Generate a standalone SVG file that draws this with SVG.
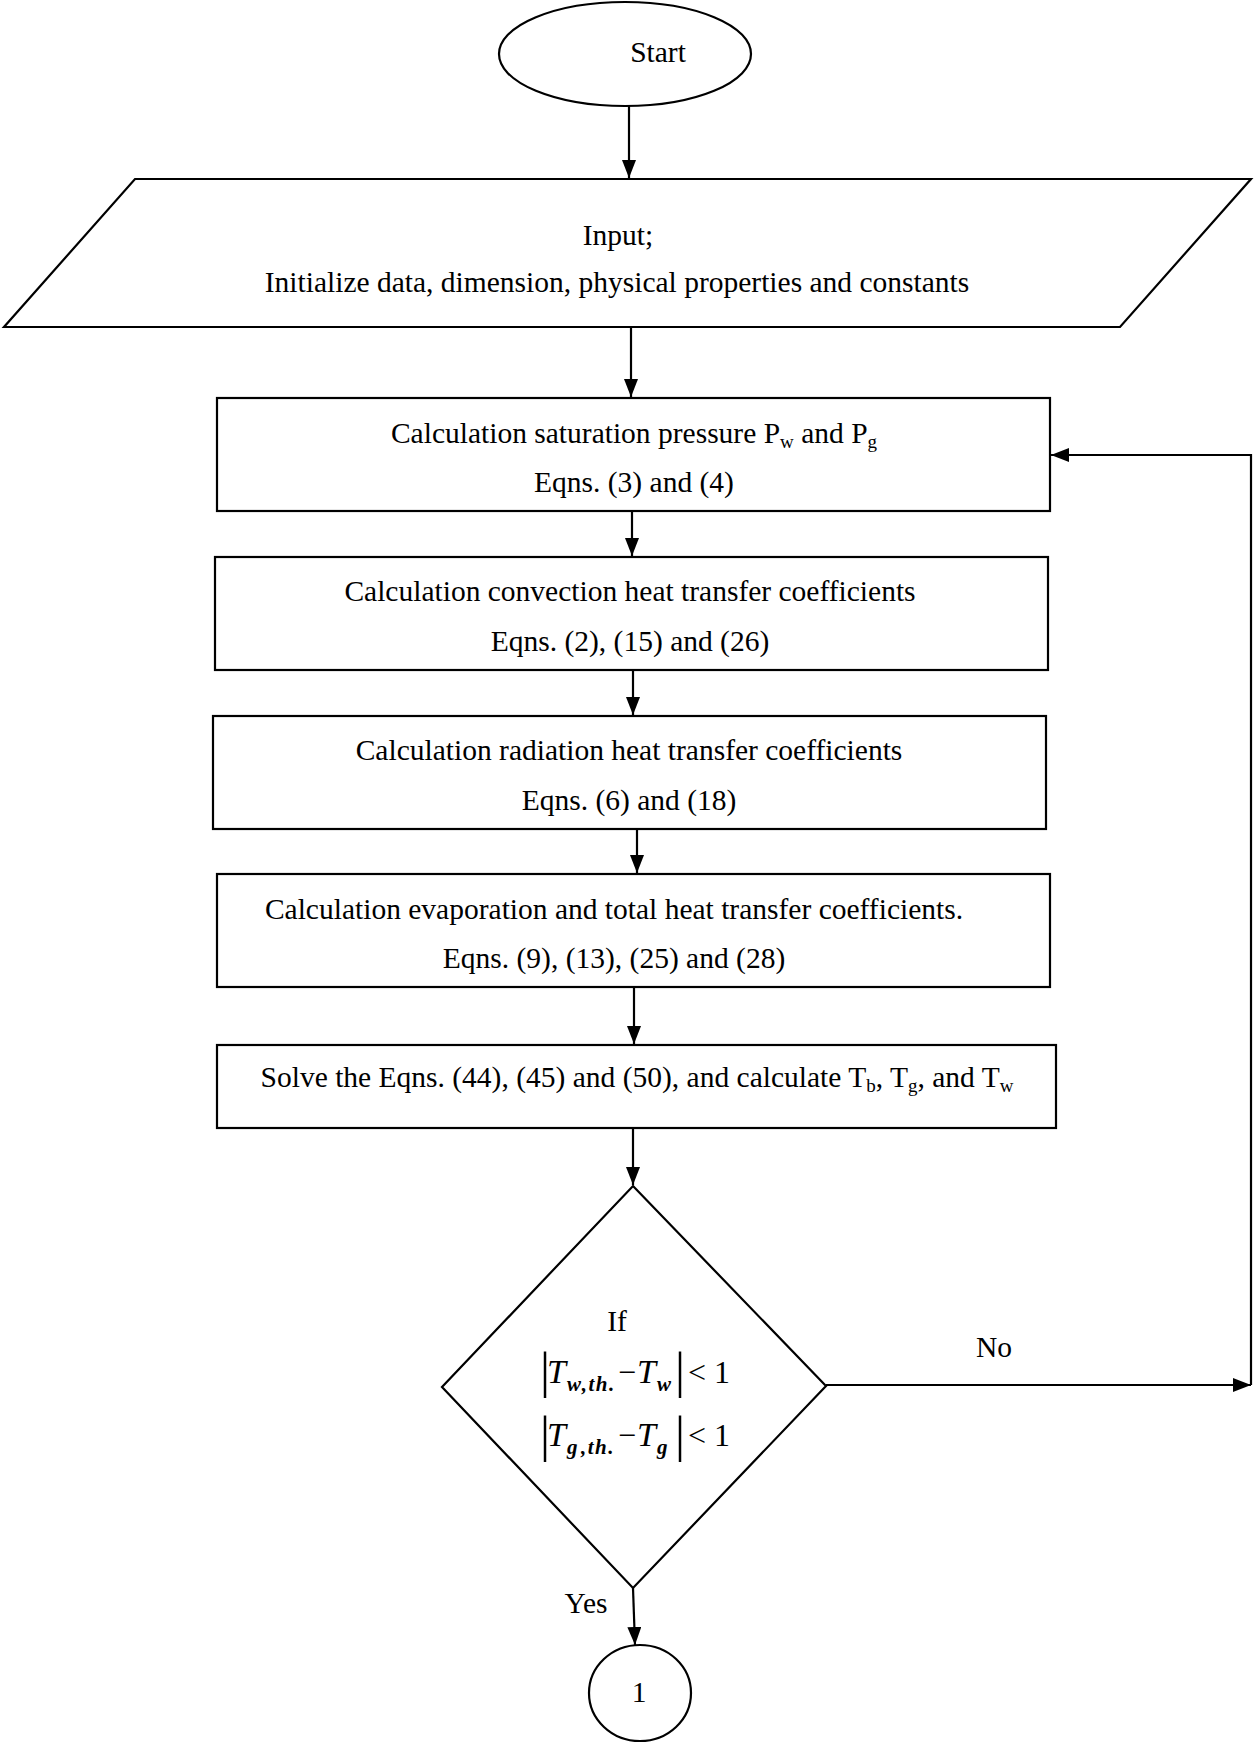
<svg xmlns="http://www.w3.org/2000/svg" width="1256" height="1744" viewBox="0 0 1256 1744">
<style>
.shape{fill:#fff;stroke:#000;stroke-width:2.2}
.line{fill:none;stroke:#000;stroke-width:2.2}
.t{font-family:"Liberation Serif","Times New Roman",serif;font-size:29.5px;fill:#000}
.c{text-anchor:middle}
.sub{font-size:19px}
.mi{font-family:"Liberation Serif","Times New Roman",serif;font-style:italic;font-size:34px;fill:#000}
.ms{font-family:"Liberation Serif","Times New Roman",serif;font-style:italic;font-weight:bold;font-size:21px;letter-spacing:1.5px;fill:#000}
.mr{font-family:"Liberation Serif","Times New Roman",serif;font-size:32px;fill:#000}
.bar{font-family:"Liberation Serif","Times New Roman",serif;font-size:50px;fill:#000}
</style>
<defs>
<marker id="ah" markerUnits="userSpaceOnUse" markerWidth="20" markerHeight="16" refX="18" refY="7" orient="auto">
<path d="M0,0 L18,7 L0,14 Z" fill="#000"/>
</marker>
</defs>
<rect width="1256" height="1744" fill="#fff"/>
<g id="connectors">
<line class="line" x1="629" y1="106" x2="629" y2="178" marker-end="url(#ah)"/>
<line class="line" x1="631" y1="327" x2="631" y2="397" marker-end="url(#ah)"/>
<line class="line" x1="632" y1="511" x2="632" y2="556" marker-end="url(#ah)"/>
<line class="line" x1="633" y1="670" x2="633" y2="715" marker-end="url(#ah)"/>
<line class="line" x1="637" y1="829" x2="637" y2="873" marker-end="url(#ah)"/>
<line class="line" x1="634" y1="987" x2="634" y2="1044" marker-end="url(#ah)"/>
<line class="line" x1="633" y1="1128" x2="633" y2="1185" marker-end="url(#ah)"/>
<line class="line" x1="633" y1="1588" x2="635" y2="1645" marker-end="url(#ah)"/>
<line class="line" x1="826" y1="1385" x2="1251" y2="1385" marker-end="url(#ah)"/>
<polyline class="line" points="1251,1385 1251,455 1051,455" marker-end="url(#ah)"/>
<text class="t c" x="994" y="1357">No</text>
<text class="t c" x="586" y="1613">Yes</text>
</g>
<g id="start">
<ellipse class="shape" cx="625" cy="54" rx="126" ry="52"/>
<text class="t c" x="658" y="62">Start</text>
</g>
<g id="input">
<polygon class="shape" points="135,179 1251,179 1120,327 4,327"/>
<text class="t c" x="618" y="245">Input;</text>
<text class="t c" x="617" y="292">Initialize data, dimension, physical properties and constants</text>
</g>
<g id="box1">
<rect class="shape" x="217" y="398" width="833" height="113"/>
<text class="t c" x="634" y="443">Calculation saturation pressure P<tspan class="sub" dy="5">w</tspan><tspan dy="-5"> and P</tspan><tspan class="sub" dy="5">g</tspan></text>
<text class="t c" x="634" y="492">Eqns. (3) and (4)</text>
</g>
<g id="box2">
<rect class="shape" x="215" y="557" width="833" height="113"/>
<text class="t c" x="630" y="601">Calculation convection heat transfer coefficients</text>
<text class="t c" x="630" y="651">Eqns. (2), (15) and (26)</text>
</g>
<g id="box3">
<rect class="shape" x="213" y="716" width="833" height="113"/>
<text class="t c" x="629" y="760">Calculation radiation heat transfer coefficients</text>
<text class="t c" x="629" y="810">Eqns. (6) and (18)</text>
</g>
<g id="box4">
<rect class="shape" x="217" y="874" width="833" height="113"/>
<text class="t c" x="614" y="919">Calculation evaporation and total heat transfer coefficients.</text>
<text class="t c" x="614" y="968">Eqns. (9), (13), (25) and (28)</text>
</g>
<g id="box5">
<rect class="shape" x="217" y="1045" width="839" height="83"/>
<text class="t c" x="637" y="1087">Solve the Eqns. (44), (45) and (50), and calculate T<tspan class="sub" dy="5">b</tspan><tspan dy="-5">, T</tspan><tspan class="sub" dy="5">g</tspan><tspan dy="-5">, and T</tspan><tspan class="sub" dy="5">w</tspan></text>
</g>
<g id="decision">
<polygon class="shape" points="633,1186 826,1386 633,1588 442,1387"/>
<text class="t c" x="617" y="1331">If</text>
<text class="bar" x="540" y="1387">|</text>
<text class="mi" x="547" y="1383">T</text>
<text class="ms" x="567" y="1391">w,th.</text>
<text class="mr" x="618" y="1383">−</text>
<text class="mi" x="637" y="1383">T</text>
<text class="ms" x="657" y="1391">w</text>
<text class="bar" x="675" y="1387">|</text>
<text class="mr" x="688" y="1383">&lt; 1</text>
<text class="bar" x="540" y="1451">|</text>
<text class="mi" x="547" y="1446">T</text>
<text class="ms" x="567" y="1454">g</text>
<text class="ms" x="581" y="1454">,th.</text>
<text class="mr" x="618" y="1446">−</text>
<text class="mi" x="637" y="1446">T</text>
<text class="ms" x="657" y="1454">g</text>
<text class="bar" x="675" y="1451">|</text>
<text class="mr" x="688" y="1446">&lt; 1</text>
</g>
<g id="connector1">
<ellipse class="shape" cx="640" cy="1693" rx="51" ry="48"/>
<text class="t c" x="639" y="1702">1</text>
</g>
</svg>
